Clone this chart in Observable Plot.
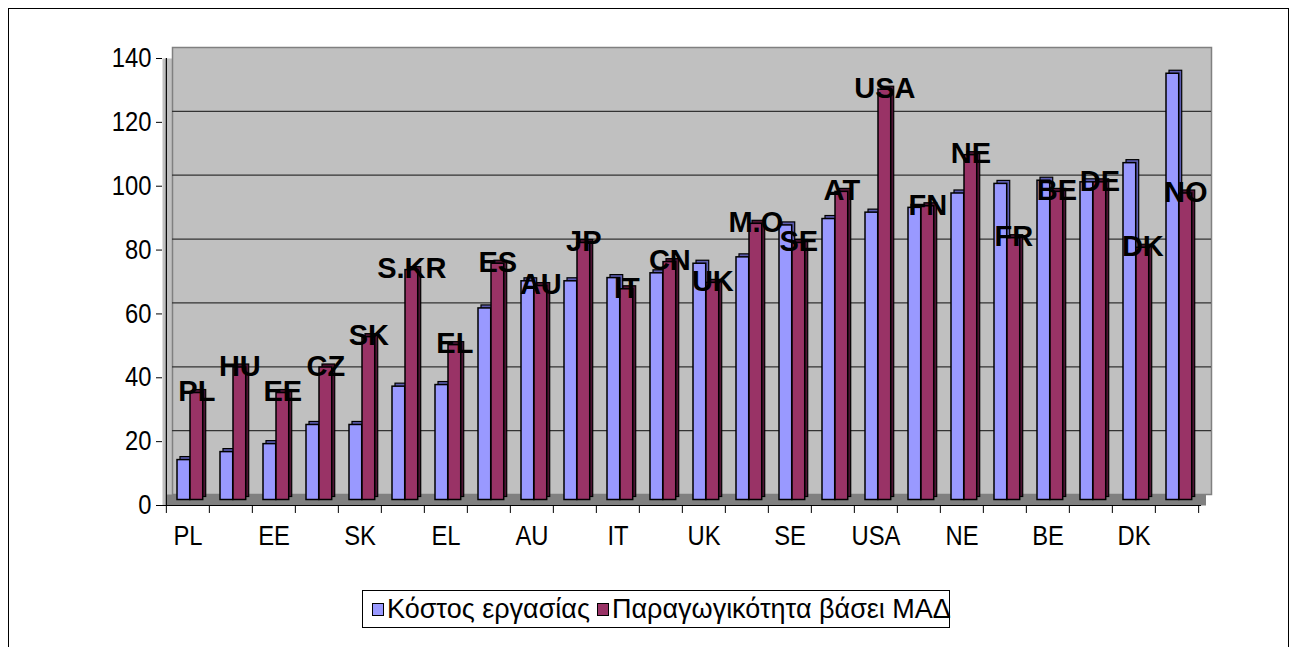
<!DOCTYPE html>
<html>
<head>
<meta charset="utf-8">
<script src="https://cdn.jsdelivr.net/npm/d3@7"></script>
<script src="https://cdn.jsdelivr.net/npm/@observablehq/plot@0.6"></script>
<style>
  html, body { margin: 0; padding: 0; background: #fff; }
  body { width: 1297px; height: 647px; overflow: hidden; position: relative;
         font-family: "Liberation Sans Narrow", "Arial Narrow", "Liberation Sans", Arial, sans-serif; }
  #frame { position: absolute; left: 8px; top: 8px; width: 1281px; height: 700px;
           border: 1px solid #000; box-sizing: border-box; pointer-events: none; z-index: 2; }
  #legend { margin-left: 362px; margin-top: 10px; width: 588px; height: 38px; border: 1px solid #000;
            box-sizing: border-box; display: flex; align-items: center; font-size: 27px; color: #000;
            padding-left: 9px; white-space: nowrap; }
  .sw { display: inline-block; width: 10px; height: 11px; border: 1px solid #000; margin-right: 3px; }
  .item { display: flex; align-items: center; margin-right: 7px; }
</style>
</head>
<body>
<div id="chart"></div>
<div id="legend"></div>
<div id="frame"></div>
<script>
// ---- data ----
const categories = ["PL","HU","EE","CZ","SK","S.KR","EL","ES","AU","JP","IT","CN","UK","M.O","SE","AT","USA","FN","NE","FR","BE","DE","DK","NO"];
const laborCost    = [12.5, 15, 17.5, 23.5, 23.5, 35.5, 36, 60, 68.5, 68.5, 69.5, 71, 74, 76, 86, 88, 90, 91.5, 96, 99, 100, 99.5, 105.5, 133.5];
const productivity = [33.5, 41.5, 33.5, 41.5, 51, 72, 48.5, 74, 67, 80.5, 66, 74.5, 68, 86.5, 80.5, 96.5, 128.5, 92, 108, 82, 96.5, 99.5, 79, 96];
const seriesNames  = ["Κόστος εργασίας", "Παραγωγικότητα βάσει ΜΑΔ"];
const seriesColors = ["#9999ff", "#993366"];
const sideColors   = ["#5c5cb0", "#4d1433"];
const yTicks = [0, 20, 40, 60, 80, 100, 120, 140];
const xTickLabels = categories.filter((d, i) => i % 2 === 0);

// ---- layout ----
const W = 1297, H = 580, ML = 162, MR = 96, MT = 58, MB = 75;
const bw = (W - ML - MR) / categories.length;
const DX = 5, DY = -5.5;          // mid-depth offset of bars
const BX = 10, BY = -11;          // back-wall offset
const rows = categories.map((c, i) => ({cat: c, cost: laborCost[i], prod: productivity[i]}));
const narrow = "'Liberation Sans Narrow', 'Arial Narrow', 'Liberation Sans', Arial, sans-serif";

const chart = Plot.plot({
  width: W, height: H,
  marginLeft: ML, marginRight: MR, marginTop: MT, marginBottom: MB,
  style: {fontFamily: narrow, background: "transparent", color: "#000"},
  x: {domain: categories, padding: 0, axis: null},
  y: {domain: [0, 140], axis: null},
  marks: [
    // side wall + back wall
    Plot.frame({fill: "#c0c0c0"}),
    Plot.frame({fill: "#c0c0c0", stroke: "#808080", strokeWidth: 1.5, dx: BX, dy: BY}),
    Plot.ruleY(yTicks.filter(t => t > 0 && t < 140), {stroke: "#333", strokeWidth: 1.3, dx: BX, dy: BY}),
    // floor
    Plot.ruleY([0], {stroke: "#808080", strokeWidth: 11, dx: DX, dy: DY}),
    // blue bars (depth then front)
    Plot.barY(rows, {x: "cat", y: "cost", insetLeft: 6, insetRight: bw - 19, dx: DX + 3, dy: DY - 3,
      fill: sideColors[0], stroke: "#000", strokeWidth: 1.2}),
    Plot.barY(rows, {x: "cat", y: "cost", insetLeft: 6, insetRight: bw - 19, dx: DX, dy: DY,
      fill: seriesColors[0], stroke: "#000", strokeWidth: 1.5}),
    // red bars
    Plot.barY(rows, {x: "cat", y: "prod", insetLeft: 19, insetRight: bw - 32, dx: DX + 3, dy: DY - 3,
      fill: sideColors[1], stroke: "#000", strokeWidth: 1.2}),
    Plot.barY(rows, {x: "cat", y: "prod", insetLeft: 19, insetRight: bw - 32, dx: DX, dy: DY,
      fill: seriesColors[1], stroke: "#000", strokeWidth: 1.5}),
    // data labels
    Plot.text(rows, {x: "cat", y: "prod", text: "cat", dx: 25.5 - bw / 2 + DX, dy: DY - 1,
      fontSize: 29, fontWeight: "bold", fontFamily: "'Liberation Sans', Arial, sans-serif", fill: "#000"}),
    // front axes
    Plot.ruleY([0], {stroke: "#000", strokeWidth: 1.2}),
    Plot.ruleX([categories[0]], {y1: 0, y2: 140, dx: -bw / 2, stroke: "#000", strokeWidth: 1.2}),
    Plot.ruleX(categories, {y1: 0, y2: -2.5, dx: -bw / 2, stroke: "#000"}),
    Plot.ruleX([categories[categories.length - 1]], {y1: 0, y2: -2.5, dx: bw / 2, stroke: "#000"}),
    Plot.axisY({ticks: yTicks, tickSize: 6, tickPadding: 5, fontSize: 27, label: null, tickFormat: d => d}),
    Plot.axisX({ticks: xTickLabels, tickSize: 0, tickPadding: 20, fontSize: 27, label: null})
  ]
});
document.getElementById("chart").appendChild(chart);

// condense axis tick labels (narrow face look)
chart.querySelectorAll('g[aria-label$="tick label"] text').forEach(t => {
  const L = t.getComputedTextLength();
  if (L > 0) {
    t.setAttribute("textLength", (L * 0.88).toFixed(1));
    t.setAttribute("lengthAdjust", "spacingAndGlyphs");
  }
});

// legend
const leg = document.getElementById("legend");
seriesNames.forEach((n, i) => {
  const it = document.createElement("span");
  it.className = "item";
  const sw = document.createElement("span");
  sw.className = "sw";
  sw.style.background = seriesColors[i];
  it.appendChild(sw);
  it.appendChild(document.createTextNode(n));
  leg.appendChild(it);
});
</script>
</body>
</html>
